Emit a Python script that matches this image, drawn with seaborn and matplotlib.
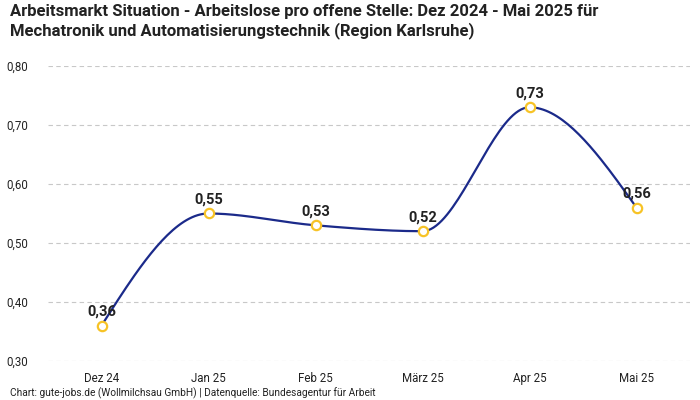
import numpy as np
import pandas as pd
import matplotlib
matplotlib.use("Agg")
import matplotlib.pyplot as plt
import seaborn as sns
from matplotlib.ticker import FuncFormatter

months = ["Dez 24", "Jan 25", "Feb 25", "März 25", "Apr 25", "Mai 25"]
values = [0.36, 0.55, 0.53, 0.52, 0.73, 0.56]
y_ticks = [0.30, 0.40, 0.50, 0.60, 0.70, 0.80]

title = ("Arbeitsmarkt Situation - Arbeitslose pro offene Stelle: Dez 2024 - Mai 2025 für\n"
         "Mechatronik und Automatisierungstechnik (Region Karlsruhe)")
footer = "Chart: gute-jobs.de (Wollmilchsau GmbH) | Datenquelle: Bundesagentur für Arbeit"

LINE = "#1b2a8a"
MARK = "#f7c326"
TXT = "#222222"

sns.set_theme(style="white")
plt.rcParams["font.family"] = ["Roboto", "DejaVu Sans"]

df = pd.DataFrame({"x": np.arange(len(months)), "month": months, "value": values})


def monotone_x(x, y, n=40):
    x = np.asarray(x, float); y = np.asarray(y, float)
    h = np.diff(x); s = np.diff(y) / h
    m = np.zeros_like(y)
    for i in range(1, len(y) - 1):
        if s[i - 1] * s[i] <= 0:
            m[i] = 0
        else:
            p = (s[i - 1] * h[i] + s[i] * h[i - 1]) / (h[i - 1] + h[i])
            m[i] = (np.sign(s[i - 1]) + np.sign(s[i])) * min(abs(s[i - 1]), abs(s[i]), 0.5 * abs(p))
    m[0] = (3 * s[0] - m[1]) / 2 if len(y) > 2 else s[0]
    m[-1] = (3 * s[-1] - m[-2]) / 2 if len(y) > 2 else s[-1]
    xs, ys = [], []
    for i in range(len(y) - 1):
        t = np.linspace(0, 1, n)
        dx = h[i]
        h00 = 2 * t**3 - 3 * t**2 + 1
        h10 = t**3 - 2 * t**2 + t
        h01 = -2 * t**3 + 3 * t**2
        h11 = t**3 - t**2
        xs.append(x[i] + t * dx)
        ys.append(h00 * y[i] + h10 * dx * m[i] + h01 * y[i + 1] + h11 * dx * m[i + 1])
    return np.concatenate(xs), np.concatenate(ys)


fig = plt.figure(figsize=(7, 4), dpi=100)
ax = fig.add_axes([48 / 700, 1 - 361 / 400, 642 / 700, 295 / 400])

cx, cy = monotone_x(df["x"], df["value"])
curve = pd.DataFrame({"x": cx, "y": cy})
sns.lineplot(data=curve, x="x", y="y", ax=ax, color=LINE, linewidth=1.6, sort=False, zorder=3)
sns.scatterplot(data=df, x="x", y="value", ax=ax, s=45, facecolor="white",
                edgecolor=MARK, linewidth=1.6, zorder=4)

for xi, v in zip(df["x"], df["value"]):
    ax.annotate(f"{v:.2f}".replace(".", ","), (xi, v), xytext=(0, 5), textcoords="offset points",
                ha="center", va="bottom", fontsize=10.5, fontweight="semibold", color=TXT, zorder=5)

ax.set_xlim(-0.5, len(months) - 0.5)
ax.set_ylim(0.30, 0.80)
ax.set_xticks(df["x"])
ax.set_xticklabels(months)
ax.set_yticks(y_ticks)
ax.yaxis.set_major_formatter(FuncFormatter(lambda v, p: f"{v:.2f}".replace(".", ",")))
ax.grid(axis="y", color="#c8c8c8", linestyle=(0, (4, 3)), linewidth=0.8)
ax.grid(axis="x", visible=False)
for sp in ax.spines.values():
    sp.set_visible(False)
ax.tick_params(axis="both", length=0, labelsize=8.3, colors=TXT)
ax.tick_params(axis="y", pad=14)
ax.tick_params(axis="x", pad=8)
ax.set_xlabel("")
ax.set_ylabel("")

fig.text(10 / 700, 1 - 4 / 400, title, ha="left", va="top", fontsize=12, fontweight="bold",
         color=TXT, linespacing=1.25)
fig.text(10 / 700, 1 - 393 / 400, footer, ha="left", va="center", fontsize=7.3, color=TXT)

fig.savefig("out.png", dpi=100)
